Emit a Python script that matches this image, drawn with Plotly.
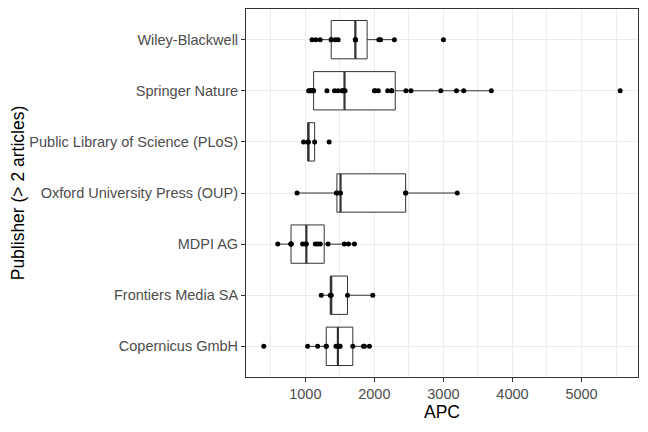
import numpy as np
import plotly.graph_objects as go

# publishers, bottom to top as in the reference
publishers = [
    "Copernicus GmbH",
    "Frontiers Media SA",
    "MDPI AG",
    "Oxford University Press (OUP)",
    "Public Library of Science (PLoS)",
    "Springer Nature",
    "Wiley-Blackwell",
]

# APC values (overlapping dots guessed so the boxes match)
copernicus = [399, 1033, 1178, 1303, 1303, 1443, 1472, 1490, 1505, 1688, 1842, 1856, 1928]
frontiers = [1231, 1361, 1375, 1611, 1977]
mdpi = [601, 793, 793, 793, 793, 961, 1000, 1015, 1145, 1183, 1217, 1330, 1563, 1625, 1712]
oup = [880, 1450, 1465, 1510, 2453, 2453, 3200]
plos = [975, 1035, 1045, 1135, 1345]
springer = [1048, 1060, 1072, 1085, 1097, 1110, 1120, 1120, 1313, 1423, 1472, 1530,
            1545, 1560, 1575, 2000, 2015, 2058, 2193, 2251, 2251, 2457, 2530, 2962,
            3189, 3294, 3694, 5560]
wiley = [1097, 1150, 1215, 1375, 1375, 1435, 1475, 1725, 1725, 1725, 1725, 2065,
         2090, 2290, 3000]

apc = [copernicus, frontiers, mdpi, oup, plos, springer, wiley]

font = "Liberation Sans, Arial, sans-serif"
fig = go.Figure()

med_x, med_y, pts_x, pts_y = [], [], [], []
for i, vals in enumerate(apc):
    v = np.array(vals, dtype=float)
    q1, med, q3 = np.percentile(v, [25, 50, 75])
    iqr = q3 - q1
    lo = v[v >= q1 - 1.5 * iqr].min()
    hi = v[v <= q3 + 1.5 * iqr].max()
    pos = i + 1
    fig.add_trace(go.Box(
        y=[pos], q1=[q1], median=[med], q3=[q3],
        lowerfence=[lo], upperfence=[hi],
        orientation="h", width=0.75, whiskerwidth=0, boxpoints=False,
        fillcolor="white", line=dict(color="#333333", width=1),
        showlegend=False, hoverinfo="skip",
    ))
    # thicker median like ggplot
    med_x += [med, med, None]
    med_y += [pos - 0.375, pos + 0.375, None]
    pts_x += list(v)
    pts_y += [pos] * len(v)

fig.add_trace(go.Scatter(x=med_x, y=med_y, mode="lines",
                         line=dict(color="#333333", width=2.2),
                         showlegend=False, hoverinfo="skip"))
fig.add_trace(go.Scatter(x=pts_x, y=pts_y, mode="markers",
                         marker=dict(color="black", size=5),
                         showlegend=False))

allv = np.concatenate([np.array(a, dtype=float) for a in apc])
span = allv.max() - allv.min()
xr = [allv.min() - 0.05 * span, allv.max() + 0.05 * span]

# page body has an 8px margin, so the figure is a bit smaller than the window
fig.update_layout(
    width=632, height=416,
    margin=dict(l=238, r=2, t=1, b=47),
    paper_bgcolor="white", plot_bgcolor="white",
    boxmode="overlay",
    font=dict(family=font, size=14.5, color="#4D4D4D"),
)
fig.update_xaxes(
    range=xr, tickvals=[1000, 2000, 3000, 4000, 5000],
    showgrid=True, gridcolor="#EBEBEB", gridwidth=1.2,
    minor=dict(tickvals=[500, 1500, 2500, 3500, 4500, 5500],
               showgrid=True, gridcolor="#EBEBEB", gridwidth=0.6, ticks=""),
    zeroline=False, showline=True, mirror=True, linecolor="#333333", linewidth=1,
    ticks="outside", ticklen=4, tickcolor="#333333", tickwidth=1,
    tickfont=dict(size=14.5, color="#4D4D4D"),
    title=dict(text="APC", font=dict(size=17.5, color="black"), standoff=3),
)
fig.update_yaxes(
    range=[0.4, 7.6], tickvals=list(range(1, 8)), ticktext=publishers,
    showgrid=True, gridcolor="#EBEBEB", gridwidth=1.2,
    zeroline=False, showline=True, mirror=True, linecolor="#333333", linewidth=1,
    ticks="outside", ticklen=4, tickcolor="#333333", tickwidth=1,
    tickfont=dict(size=14.5, color="#4D4D4D"),
    title=dict(text="Publisher (> 2 articles)", font=dict(size=17.5, color="black"), standoff=4),
)

fig.write_html("out.html")
